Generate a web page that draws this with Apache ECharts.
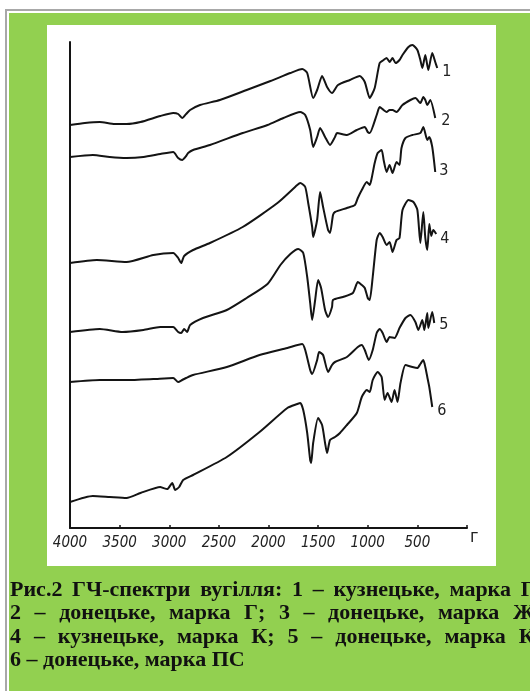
<!DOCTYPE html>
<html>
<head>
<meta charset="utf-8">
<script src="https://cdn.jsdelivr.net/npm/echarts@6/dist/echarts.min.js"></script>
<style>
html,body{margin:0;padding:0;background:#fff;overflow:hidden;}
#chart{width:530px;height:691px;}
</style>
</head>
<body>
<div id="chart"></div>
<script>
// Wavenumber axis (cm^-1) tick labels
const tickLabels = [4000, 3500, 3000, 2500, 2000, 1500, 1000, 500];
// Curve names (labels at the right end of every spectrum)
const curveNames = ['1', '2', '3', '4', '5', '6'];
// Spectra: [wavenumber, transmittance (arb. units, vertically offset)]
const spectrum1 = [[4000,403],[3850,405],[3700,406],[3550,404],[3430,404],[3290,406],[3090,412],[2960,415],[2910,414],[2870,410],[2830,414],[2790,418],[2690,423],[2490,428],[2220,438],[1980,447],[1780,455],[1660,459],[1610,455],[1550,430],[1510,438],[1460,452],[1410,441],[1360,435],[1300,443],[1180,448],[1080,452],[1030,446],[980,430],[930,440],[880,465],[840,468],[810,470],[780,466],[750,470],[720,465],[680,468],[650,473],[590,481],[550,483],[500,478],[470,468],[450,460],[420,473],[390,458],[350,475],[320,466],[300,460]];
const spectrum2 = [[4000,371],[3770,373],[3600,371],[3430,370],[3260,371],[3090,374],[2960,376],[2910,370],[2870,368],[2830,372],[2810,375],[2760,378],[2590,383],[2260,395],[2010,403],[1850,410],[1680,416],[1630,413],[1580,398],[1550,381],[1510,391],[1480,400],[1430,391],[1380,383],[1330,391],[1310,395],[1210,393],[1110,398],[1030,401],[1000,396],[980,395],[910,413],[880,421],[840,418],[810,416],[780,418],[750,418],[710,416],[650,423],[570,428],[520,430],[470,425],[440,431],[420,428],[400,423],[370,428],[320,410]];
const spectrum3 = [[4000,265],[3730,268],[3430,266],[3160,273],[2960,275],[2910,270],[2880,265],[2850,272],[2760,278],[2590,285],[2260,301],[1910,325],[1710,343],[1680,345],[1630,341],[1600,325],[1560,301],[1550,291],[1510,308],[1480,336],[1450,321],[1400,298],[1380,295],[1350,313],[1330,316],[1210,320],[1130,323],[1100,330],[1060,338],[1010,346],[980,343],[960,350],[930,365],[900,375],[860,378],[840,368],[810,356],[780,363],[750,355],[710,366],[680,363],[660,380],[620,390],[550,393],[470,395],[440,401],[400,388],[380,391],[350,381],[320,356]];
const spectrum4 = [[4000,196],[3700,199],[3470,196],[3260,198],[3090,201],[2960,201],[2910,196],[2880,195],[2850,199],[2820,196],[2790,203],[2660,210],[2420,218],[2220,230],[2010,244],[1880,263],[1780,274],[1700,279],[1650,275],[1610,251],[1580,225],[1560,208],[1530,228],[1500,248],[1470,240],[1430,218],[1400,211],[1360,221],[1350,228],[1250,231],[1150,235],[1100,246],[1060,243],[1030,240],[1000,230],[980,228],[950,251],[910,288],[880,295],[850,291],[810,283],[780,286],[750,276],[710,288],[680,290],[650,318],[590,328],[540,326],[500,318],[470,285],[440,316],[420,290],[400,278],[380,304],[360,292],[340,298],[310,294]];
const spectrum5 = [[4000,146],[3700,148],[3430,148],[3160,149],[2960,150],[2910,146],[2870,148],[2830,150],[2760,153],[2420,161],[2090,173],[1810,180],[1660,184],[1630,178],[1580,158],[1560,154],[1510,168],[1490,176],[1450,173],[1400,156],[1360,163],[1330,166],[1210,171],[1100,181],[1060,183],[1030,178],[990,168],[950,178],[910,195],[880,199],[850,195],[810,186],[780,191],[730,190],[680,200],[620,210],[570,213],[520,206],[490,198],[450,208],[430,198],[400,215],[390,200],[350,216],[330,205]];
const spectrum6 = [[4000,26],[3770,32],[3600,31],[3430,30],[3290,35],[3090,41],[3060,40],[3020,39],[2970,45],[2940,38],[2900,41],[2860,48],[2760,53],[2420,71],[2090,96],[1810,120],[1710,124],[1680,125],[1650,118],[1610,95],[1580,68],[1570,65],[1550,85],[1500,110],[1460,103],[1430,85],[1410,75],[1380,88],[1330,91],[1280,95],[1210,103],[1110,115],[1060,131],[1010,138],[980,136],[950,148],[900,156],[860,151],[830,128],[800,135],[760,126],[730,138],[700,126],[670,145],[620,163],[550,161],[500,160],[470,164],[440,168],[420,161],[400,151],[380,141],[350,121]];
const spectra = [spectrum1, spectrum2, spectrum3, spectrum4, spectrum5, spectrum6];
// Caption text (Ukrainian)
const captionLines = [
  'Рис.2 ГЧ-спектри вугілля: 1 – кузнецьке, марка Г;',
  '2 – донецьке, марка Г; 3 – донецьке, марка Ж;',
  '4 – кузнецьке, марка К; 5 – донецьке, марка К;',
  '6 – донецьке, марка ПС'
];
const axisSymbol = 'г';

// ---------- layout / styling ----------
const INK = '#141414';
const handFont = "'DejaVu Sans Condensed','DejaVu Sans',sans-serif";
const capFont = "'Liberation Serif','Times New Roman',serif";
const capSize = 22;
const labelOffsets = [[5,4],[6,3],[4,-1],[4,5],[5,2],[5,4]];

const chart = echarts.init(document.getElementById('chart'), null, {renderer:'canvas'});

// Build justified caption words as graphic text
const measureCtx = document.createElement('canvas').getContext('2d');
measureCtx.font = 'bold ' + capSize + 'px ' + capFont;
const capLeft = 10, capRight = 542;
const capY = [590, 613.5, 637, 660.5];
const captionEls = [];
captionLines.forEach((line, li) => {
  const words = line.split(' ');
  const widths = words.map(w => measureCtx.measureText(w).width);
  const total = widths.reduce((a,b)=>a+b,0);
  const justify = li < captionLines.length - 1;
  const gap = justify ? (capRight - capLeft - total) / (words.length - 1) : measureCtx.measureText(' ').width;
  let x = capLeft;
  words.forEach((w, wi) => {
    captionEls.push({
      type:'text', z: 10, x: x, y: capY[li],
      style:{text:w, fill:'#111', font:'bold ' + capSize + 'px ' + capFont, textVerticalAlign:'middle', textAlign:'left'}
    });
    x += widths[wi] + gap;
  });
});

const option = {
  animation:false,
  backgroundColor:'#ffffff',
  graphic:[
    {type:'rect', z:-10, shape:{x:5,y:9,width:525,height:2}, style:{fill:'#a8a8a8'}},
    {type:'rect', z:-10, shape:{x:5,y:9,width:2,height:682}, style:{fill:'#a8a8a8'}},
    {type:'rect', z:-9, shape:{x:9,y:13,width:521,height:678}, style:{fill:'#92d050'}},
    {type:'rect', z:-8, shape:{x:47,y:25,width:449,height:541}, style:{fill:'#ffffff'}},
    ...captionEls
  ],
  grid:{left:70, top:42, width:397, height:486, containLabel:false},
  xAxis:{
    type:'value', min:0, max:4000, interval:500, inverse:true,
    axisLine:{show:true, onZero:false, lineStyle:{color:INK, width:2}},
    axisTick:{show:true, inside:true, length:3, lineStyle:{color:INK, width:1.5}},
    splitLine:{show:false},
    axisLabel:{
      show:true, margin:8, color:'#222', fontSize:15, fontStyle:'italic', fontFamily:handFont,
      formatter: v => tickLabels.indexOf(v) >= 0 ? String(v) : ''
    },
    name: axisSymbol, nameLocation:'start', nameGap:3,
    nameTextStyle:{color:'#222', fontSize:18, fontFamily:handFont, verticalAlign:'top', padding:[0,0,0,0]}
  },
  yAxis:{
    type:'value', min:0, max:486,
    axisLine:{show:true, onZero:false, lineStyle:{color:INK, width:2}},
    axisTick:{show:false}, axisLabel:{show:false}, splitLine:{show:false}
  },
  series: spectra.map((d, i) => ({
    type:'line', name: curveNames[i], data: d,
    showSymbol:false, smooth:0.2,
    lineStyle:{color:INK, width:2, join:'round'},
    endLabel:{show:true, formatter:'{a}', color:'#222', fontSize:16, fontFamily:handFont,
      distance:0, align:'left', verticalAlign:'middle', offset:labelOffsets[i]}
  }))
};
chart.setOption(option);
</script>
</body>
</html>
